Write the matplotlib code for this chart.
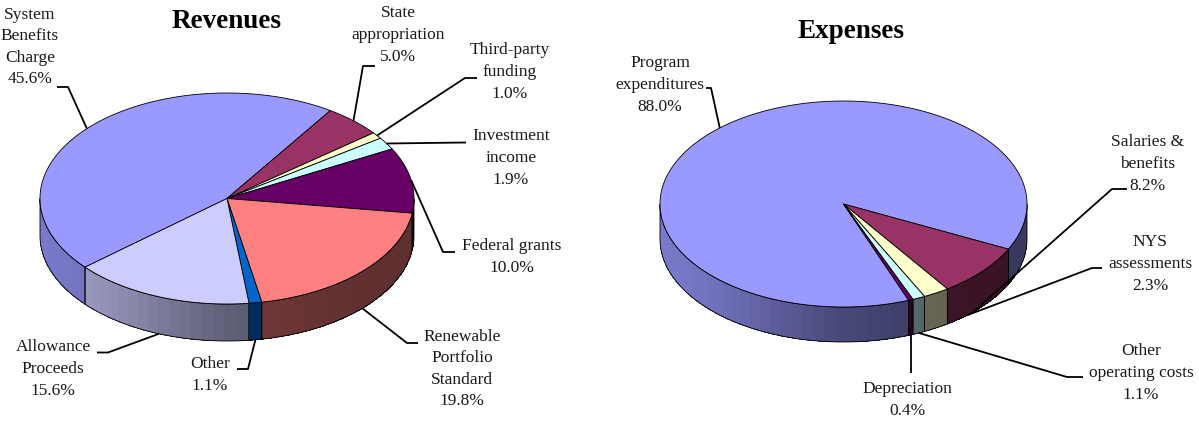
import numpy as np
import matplotlib
matplotlib.use("Agg")
import matplotlib.pyplot as plt
from matplotlib.patches import Polygon

# ---------------- data ----------------
rev_labels = ["System\nBenefits\nCharge", "State\nappropriation", "Third-party\nfunding",
              "Investment\nincome", "Federal grants", "Renewable\nPortfolio\nStandard",
              "Other", "Allowance\nProceeds"]
rev_values = [45.6, 5.0, 1.0, 1.9, 10.0, 19.8, 1.1, 15.6]
rev_colors = ["#9999FF", "#993366", "#FFFFCC", "#CCFFFF", "#660066", "#FF8080", "#0066CC", "#CCCCFF"]

exp_labels = ["Program\nexpenditures", "Salaries &\nbenefits", "NYS\nassessments",
              "Other\noperating costs", "Depreciation"]
exp_values = [88.0, 8.2, 2.3, 1.1, 0.4]
exp_colors = ["#9999FF", "#993366", "#FFFFCC", "#CCFFFF", "#660066"]

titles = ["Revenues", "Expenses"]

# ---------------- layout (pixel space) ----------------
rev_geom = dict(cx=227, cy=198.5, rx=187, ry=105.5, depth=37, start=-139.4)
exp_geom = dict(cx=843.5, cy=204, rx=183.5, ry=103, depth=35, start=-69.2)

# label centre, leader points from label side, anchor (rim, angle offset)
rev_layout = [
    ((30, 47), [(57, 87), (68, 87)], ("top", 0)),
    ((398, 35), [(375, 66), (363, 66)], ("top", 0)),
    ((510, 72), [(477, 78), (465, 78)], ("top", 0)),
    ((511, 158), [(466, 142.5)], ("top", 0)),
    ((512, 257), [(455, 252), (443, 252)], ("top", 0)),
    ((462, 369), [(418, 343), (407, 343)], ("bottom", 0)),
    ((210, 375), [(237, 369), (248, 369)], ("bottom", 0)),
    ((53, 369), [(97, 352.5), (108, 352.5)], ("bottom", 0)),
]
exp_layout = [
    ((660, 85), [(706, 88), (711, 88)], ("top", 0)),
    ((1148, 164), [(1127, 189), (1112, 189)], ("bottom", -4)),
    ((1150, 264), [(1102, 268), (1092, 268)], ("bottom", 11.6)),
    ((1141, 373), [(1083, 377), (1067, 377)], ("bottom", 0)),
    ((907, 400), [(None, 373)], ("bottom", 0)),
]
title_pos = [(227, 21), (851, 31)]

W, H = 1199, 421
fig = plt.figure(figsize=(W / 100, H / 100), dpi=100)
ax = fig.add_axes([0, 0, 1, 1])
ax.set_xlim(0, W)
ax.set_ylim(H, 0)
ax.axis("off")

FONT = "Liberation Serif"
shade_nodes = [-180, -150, -130, -110, -90, -70, -45, 0]
shade_vals = [0.80, 0.78, 0.72, 0.60, 0.47, 0.41, 0.38, 0.37]


def rim(g, t, dz=0.0):
    r = np.radians(t)
    return g["cx"] + g["rx"] * np.cos(r), g["cy"] - g["ry"] * np.sin(r) + dz


def shade(color, t):
    tn = ((t + 180) % 360) - 180
    f = np.interp(tn, shade_nodes, shade_vals)
    c = np.array(matplotlib.colors.to_rgb(color))
    return tuple(np.clip(c * f, 0, 1))


def draw_pie(g, values, colors, labels, layout):
    total = float(sum(values))
    spans = [360.0 * v / total for v in values]
    bounds = []
    t1 = g["start"]
    for s in spans:
        bounds.append((t1, t1 - s))
        t1 -= s
    d = g["depth"]
    # sides
    for (ta, tb), col in zip(bounds, colors):
        ts = np.linspace(tb, ta, max(int((ta - tb) / 0.25), 2) + 1)
        vis = np.sin(np.radians(ts)) <= 1e-9
        runs, cur = [], []
        for t, v in zip(ts, vis):
            if v:
                cur.append(t)
            elif cur:
                runs.append(cur); cur = []
        if cur:
            runs.append(cur)
        for run in runs:
            run = np.array(run)
            if len(run) < 2:
                continue
            step = 3.5
            edges = np.arange(run[0], run[-1], step)
            edges = np.append(edges, run[-1])
            for a, b in zip(edges[:-1], edges[1:]):
                tt = np.linspace(a, min(b + 0.6, run[-1]), 6)
                xt, yt = rim(g, tt)
                xb, yb = rim(g, tt[::-1], d)
                pts = np.column_stack([np.r_[xt, xb], np.r_[yt, yb]])
                ax.add_patch(Polygon(pts, closed=True, facecolor=shade(col, (a + b) / 2),
                                     edgecolor="none", lw=0, antialiased=False, zorder=1))
            xt, yt = rim(g, run)
            xb, yb = rim(g, run[::-1], d)
            pts = np.column_stack([np.r_[xt, xb], np.r_[yt, yb]])
            ax.add_patch(Polygon(pts, closed=True, facecolor="none", edgecolor="black",
                                 lw=0.6, zorder=2))
    # tops
    for (ta, tb), col in zip(bounds, colors):
        tt = np.linspace(ta, tb, max(int((ta - tb) / 0.5), 2) + 1)
        x, y = rim(g, tt)
        pts = np.column_stack([np.r_[g["cx"], x], np.r_[g["cy"], y]])
        ax.add_patch(Polygon(pts, closed=True, facecolor=col, edgecolor="black",
                             lw=0.6, joinstyle="miter", zorder=3))
    # labels and leaders
    for (ta, tb), v, lab, (txy, pts, (which, off)) in zip(bounds, values, labels, layout):
        mid = (ta + tb) / 2 + off
        axp, ayp = rim(g, mid, d if which == "bottom" else 0)
        xs = [axp if p[0] is None else p[0] for p in pts] + [axp]
        ys = [p[1] for p in pts] + [ayp]
        ax.plot(xs, ys, color="black", lw=1.3, solid_capstyle="butt", zorder=4)
        ax.text(txy[0], txy[1], f"{lab}\n{v:.1f}%", ha="center", va="center",
                family=FONT, fontsize=12.5, linespacing=1.47, color="#1a1a1a", zorder=5)


draw_pie(rev_geom, rev_values, rev_colors, rev_labels, rev_layout)
draw_pie(exp_geom, exp_values, exp_colors, exp_labels, exp_layout)

for t, (x, y) in zip(titles, title_pos):
    ax.text(x, y, t, ha="center", va="center", family=FONT, fontsize=19.5,
            fontweight="bold", color="black")

fig.savefig("out.png", dpi=100)
